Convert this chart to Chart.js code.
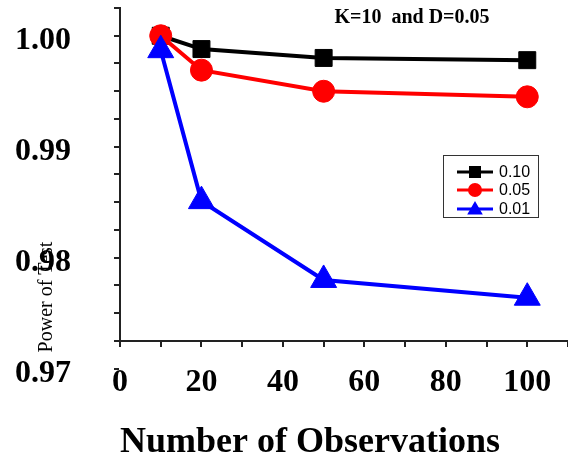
<!DOCTYPE html>
<html>
<head>
<meta charset="utf-8">
<script src="https://cdn.jsdelivr.net/npm/chart.js@4/dist/chart.umd.min.js"></script>
<style>
  html, body { margin: 0; padding: 0; background: #fff; overflow: hidden; }
  #wrap { width: 568px; height: 467px; }
</style>
</head>
<body>
<div id="wrap"><canvas id="chart" width="568" height="467"></canvas></div>
<script>
// Power of test vs. number of observations, one series per significance level.
const observations = [10, 20, 50, 100];
const power010 = [1.0000, 0.9988, 0.9980, 0.9978];
const power005 = [1.0000, 0.9969, 0.9950, 0.9945];
const power001 = [0.9987, 0.9851, 0.9780, 0.9764];
const seriesLabels = ["0.10", "0.05", "0.01"];

const xTickValues = [0, 10, 20, 30, 40, 50, 60, 70, 80, 90, 100, 110];
const yTickValues = [0.97, 0.9725, 0.975, 0.9775, 0.98, 0.9825, 0.985, 0.9875,
  0.99, 0.9925, 0.995, 0.9975, 1.0, 1.0025];

const SERIF = "'Liberation Serif', 'Times New Roman', serif";
const SANS = "'Liberation Sans', Arial, sans-serif";
const AXIS = "#222";

const toPoints = (ys) => observations.map((x, i) => ({ x, y: ys[i] }));

const series = [
  { label: seriesLabels[0], values: power010, color: "#000000", style: "rect", radius: 12, order: 2 },
  { label: seriesLabels[1], values: power005, color: "#ff0000", style: "circle", radius: 11, order: 1 },
  { label: seriesLabels[2], values: power001, color: "#0000ff", style: "triangle", radius: 15, order: 0 },
];

function marker(ctx, style, x, y, r) {
  ctx.beginPath();
  if (style === "rect") {
    ctx.rect(x - r, y - r, 2 * r, 2 * r);
  } else if (style === "circle") {
    ctx.arc(x, y, r, 0, Math.PI * 2);
  } else {
    ctx.moveTo(x, y - r);
    ctx.lineTo(x + r * 0.866, y + r / 2);
    ctx.lineTo(x - r * 0.866, y + r / 2);
    ctx.closePath();
  }
  ctx.fill();
}

// heading, rotated y title and the boxed legend
const annotations = {
  id: "annotations",
  afterDraw(chart) {
    const ctx = chart.ctx;
    ctx.save();
    ctx.fillStyle = "#000";
    ctx.textAlign = "center";
    ctx.textBaseline = "middle";
    ctx.font = "bold 20px " + SERIF;
    ctx.fillText("K=10  and D=0.05", 412, 18);

    ctx.save();
    ctx.translate(47, 297);
    ctx.rotate(-Math.PI / 2);
    ctx.font = "20px " + SERIF;
    ctx.fillText("Power of Test", 0, 0);
    ctx.restore();

    ctx.strokeStyle = "#333";
    ctx.lineWidth = 1;
    ctx.strokeRect(443.5, 155.5, 95, 62);
    const rows = [172, 190, 209];
    const sizes = { rect: 6, circle: 7, triangle: 9 };
    series.forEach((s, i) => {
      const y = rows[i];
      ctx.strokeStyle = s.color;
      ctx.fillStyle = s.color;
      ctx.lineWidth = 3;
      ctx.beginPath();
      ctx.moveTo(457, y);
      ctx.lineTo(493, y);
      ctx.stroke();
      marker(ctx, s.style, 475, s.style === "triangle" ? y + 1 : y, sizes[s.style]);
      ctx.fillStyle = "#000";
      ctx.textAlign = "left";
      ctx.font = "16px " + SANS;
      ctx.fillText(s.label, 499, y + 1);
    });
    ctx.restore();
  },
};

const isMajor = (v) => Math.abs(v * 100 - Math.round(v * 100)) < 1e-6;

new Chart(document.getElementById("chart"), {
  type: "line",
  data: {
    datasets: series.map((s) => ({
      label: s.label,
      data: toPoints(s.values),
      borderColor: s.color,
      backgroundColor: s.color,
      borderWidth: 4,
      pointStyle: s.style,
      pointRadius: s.radius,
      pointHoverRadius: s.radius,
      pointBorderWidth: 1,
      pointBackgroundColor: s.color,
      pointBorderColor: s.color,
      tension: 0,
      clip: false,
      order: s.order,
    })),
  },
  options: {
    responsive: false,
    animation: false,
    devicePixelRatio: 1,
    layout: { autoPadding: false, padding: { top: 8, left: 0, right: 0, bottom: 0 } },
    plugins: { legend: { display: false }, tooltip: { enabled: false } },
    scales: {
      x: {
        type: "linear",
        min: 0,
        max: 110,
        afterBuildTicks: (s) => { s.ticks = xTickValues.map((value) => ({ value })); },
        afterFit: (s) => { s.height = 126; s.paddingLeft = 0; s.paddingRight = 0; },
        border: { color: AXIS, width: 2 },
        grid: { drawOnChartArea: false, tickLength: 6, color: AXIS, lineWidth: 2 },
        ticks: {
          autoSkip: false,
          maxRotation: 0,
          padding: 17,
          color: "#000",
          font: { family: SERIF, size: 32, weight: "bold" },
          callback: (v) => (v % 20 === 0 && v <= 100 ? String(v) : ""),
        },
        title: {
          display: true,
          align: "start",
          text: "Number of Observations",
          color: "#000",
          font: { family: SERIF, size: 36, weight: "bold" },
          padding: { top: 0, bottom: 3 },
        },
      },
      y: {
        type: "linear",
        min: 0.9725,
        max: 1.0025,
        afterBuildTicks: (s) => { s.ticks = yTickValues.map((value) => ({ value })); },
        afterFit: (s) => { s.width = 120; s.paddingTop = 0; s.paddingBottom = 0; },
        border: { color: AXIS, width: 2 },
        grid: { drawOnChartArea: false, tickLength: 6, color: AXIS, lineWidth: 2 },
        ticks: {
          autoSkip: false,
          padding: 43,
          labelOffset: 5,
          color: "#000",
          font: { family: SERIF, size: 32, weight: "bold" },
          callback: (v) => (isMajor(v) ? v.toFixed(2) : ""),
        },
      },
    },
  },
  plugins: [annotations],
});
</script>
</body>
</html>
